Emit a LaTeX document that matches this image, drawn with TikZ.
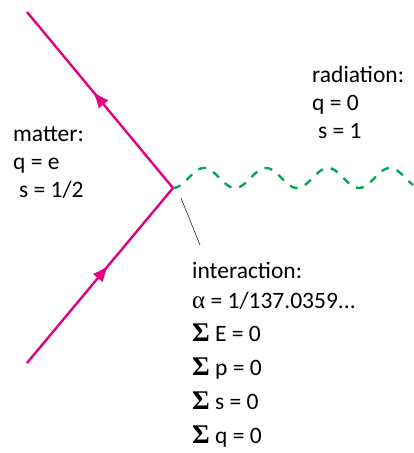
\documentclass[tikz,border=0pt]{standalone}
\usepackage{fontspec}
\setmainfont{Carlito}
\newfontfamily\grk{Liberation Serif}
\usetikzlibrary{arrows.meta,decorations.markings}
\definecolor{fermion}{RGB}{230,0,126}
\definecolor{photon}{RGB}{0,168,80}
\newcommand{\sumsym}{{\grk\bfseries\fontsize{27bp}{27bp}\selectfont Σ}}
\newcommand{\alphasym}{{\grk\fontsize{25bp}{27bp}\selectfont α}}
\tikzset{
  fermline/.style={draw=fermion, line width=2.4bp},
  midarrow/.style={postaction={decorate, decoration={markings,
     mark=at position #1 with {\arrow[fermion]{Latex[length=17bp,width=13bp]}}}}},
  photline/.style={draw=photon, line width=2.4bp, dash pattern=on 8bp off 8bp},
  pointer/.style={draw=black!85, line width=0.6bp},
  lbl/.style={anchor=base west, inner sep=0pt, font=\fontsize{23.5bp}{27bp}\selectfont},
}
\begin{document}
\begin{tikzpicture}[x=1bp,y=-1bp]
\useasboundingbox (0,0) rectangle (413,453);
\coordinate (vtx) at (173,188);
\coordinate (top) at (27,12);
\coordinate (bot) at (27,363);
\coordinate (ptrA) at (181,198);
\coordinate (ptrB) at (200,245);
% fermion lines
\draw[fermline, midarrow=0.56] (bot) -- (vtx);
\draw[fermline, midarrow=0.55] (vtx) -- (top);
% photon
\draw[photline] plot[domain=173:413, samples=240, smooth] (\x, {178+10*cos((\x-173)*5.80645)});
% pointer
\draw[pointer] (ptrA) -- (ptrB);
% labels
\node[lbl] (m1) at (13,142) {matter:};
\node[lbl] (m2) at (13,170) {q = e};
\node[lbl] (m3) at (19,198) {s = 1/2};
\node[lbl] (r1) at (312,83) {radiation:};
\node[lbl] (r2) at (312,111) {q = 0};
\node[lbl] (r3) at (318,139) {s = 1};
\node[lbl] (i1) at (192,278) {interaction:};
\node[lbl] (i2) at (192,308) {\alphasym{} = 1/137.0359...};
\node[lbl] (i3) at (192,341) {\sumsym{} E = 0};
\node[lbl] (i4) at (192,375) {\sumsym{} p = 0};
\node[lbl] (i5) at (192,409) {\sumsym{} s = 0};
\node[lbl] (i6) at (192,443) {\sumsym{} q = 0};
\end{tikzpicture}
\end{document}
